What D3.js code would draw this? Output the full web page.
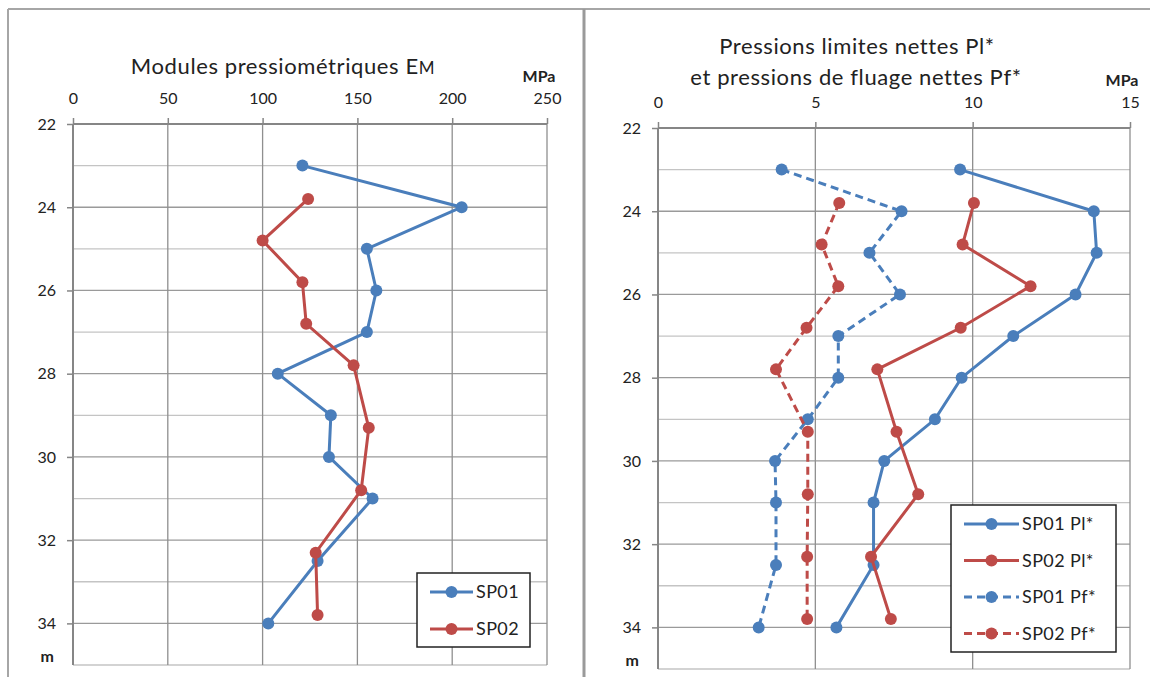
<!DOCTYPE html>
<html lang="fr">
<head>
<meta charset="UTF-8">
<title>Essais pressiométriques</title>
<script src="https://d3js.org/d3.v7.min.js"></script>
<style>
  body { margin: 0; background: #fff; }
  svg text { font-family: Lato, "Open Sans", sans-serif; fill: #222; }
</style>
</head>
<body>
<div id="chart"></div>
<script>
// depths (m)
const depthSP01 = [23, 24, 25, 26, 27, 28, 29, 30, 31, 32.5, 34];
const depthSP02 = [23.8, 24.8, 25.8, 26.8, 27.8, 29.3, 30.8, 32.3, 33.8];

// modules pressiometriques EM (MPa)
const emSP01 = [121, 205, 155, 160, 155, 108, 136, 135, 158, 129, 103];
const emSP02 = [124, 100, 121, 123, 148, 156, 152, 128, 129];

// pressions limites nettes Pl* et de fluage Pf* (MPa)
const plSP01 = [9.6, 13.85, 13.94, 13.27, 11.29, 9.65, 8.8, 7.19, 6.85, 6.85, 5.67];
const pfSP01 = [3.93, 7.74, 6.72, 7.69, 5.73, 5.73, 4.76, 3.72, 3.75, 3.75, 3.2];
const plSP02 = [10.04, 9.68, 11.84, 9.62, 6.97, 7.58, 8.27, 6.77, 7.4];
const pfSP02 = [5.76, 5.2, 5.73, 4.72, 3.75, 4.76, 4.76, 4.74, 4.74];

// axis ticks
const depthTicks = [22, 24, 26, 28, 30, 32, 34];
const emTicks = [0, 50, 100, 150, 200, 250];
const pTicks = [0, 5, 10, 15];

const blue = "#4a7ebb", red = "#be4b48";

const svg = d3.select("#chart").append("svg")
    .attr("width", 1150)
    .attr("height", 677);

// outer frames
svg.append("line").attr("x1", 8).attr("x2", 1150).attr("y1", 9).attr("y2", 9)
    .attr("stroke", "#a6a6a6").attr("stroke-width", 2);
svg.append("line").attr("x1", 8).attr("x2", 8).attr("y1", 9).attr("y2", 677)
    .attr("stroke", "#a6a6a6").attr("stroke-width", 2);
svg.append("line").attr("x1", 584).attr("x2", 584).attr("y1", 9).attr("y2", 677)
    .attr("stroke", "#9a9a9a").attr("stroke-width", 3);

function drawPanel(p) {
    const x = d3.scaleLinear().domain(p.xDomain).range([p.left, p.right]);
    const y = d3.scaleLinear().domain([22, 35]).range([p.top, p.bottom]);
    const g = svg.append("g");

    // horizontal gridlines (minor at odd depths)
    g.selectAll(".hgrid").data(d3.range(23, 36)).enter().append("line")
        .attr("x1", p.left).attr("x2", p.right)
        .attr("y1", d => y(d)).attr("y2", d => y(d))
        .attr("stroke", d => d % 2 === 0 ? "#9a9a9a" : "#c4c4c4")
        .attr("stroke-width", d => d === 35 ? 1.5 : 1.3);

    // vertical gridlines
    g.selectAll(".vgrid").data(p.xTicks.slice(1)).enter().append("line")
        .attr("x1", d => x(d)).attr("x2", d => x(d))
        .attr("y1", p.top).attr("y2", p.bottom)
        .attr("stroke", "#8f8f8f").attr("stroke-width", 1.3);

    // top x axis
    const xAxis = g.append("g").attr("transform", `translate(0,${p.top})`)
        .call(d3.axisTop(x).tickValues(p.xTicks).tickSize(6).tickPadding(14));
    // left y axis
    const yAxis = g.append("g").attr("transform", `translate(${p.left},0)`)
        .call(d3.axisLeft(y).tickValues(depthTicks).tickSize(6).tickPadding(11));
    [xAxis, yAxis].forEach(a => {
        a.select(".domain").attr("stroke", "#868686").attr("stroke-width", 2);
        a.selectAll(".tick line").attr("stroke", "#868686").attr("stroke-width", 1.5);
        a.selectAll(".tick text").style("font-size", "16px").attr("fill", "#222");
    });
    yAxis.select(".domain").attr("d", `M0,${p.top}V${p.bottom}`);
    xAxis.select(".domain").attr("d", `M${p.left},0H${p.right}`);

    g.append("text").attr("x", p.left - 19).attr("y", p.bottom - 3)
        .attr("text-anchor", "end").style("font-size", "16px")
        .style("font-weight", "bold").text("m");
    g.append("text").attr("x", p.right - 8).attr("y", p.top - 42)
        .attr("text-anchor", "middle").style("font-size", "16px")
        .style("font-weight", "bold").text("MPa");

    // series
    const line = d3.line().x(d => x(d[0])).y(d => y(d[1]));
    p.series.forEach(s => {
        const pts = d3.zip(s.values, s.depths);
        g.append("path").datum(pts)
            .attr("d", line).attr("fill", "none")
            .attr("stroke", s.color).attr("stroke-width", 3)
            .attr("stroke-dasharray", s.dashed ? "8,5" : null);
        g.selectAll(null).data(pts).enter().append("circle")
            .attr("cx", d => x(d[0])).attr("cy", d => y(d[1]))
            .attr("r", 6).attr("fill", s.color);
    });

    // legend
    const lg = g.append("g");
    lg.append("rect").attr("x", p.legend.x).attr("y", p.legend.y)
        .attr("width", p.legend.w).attr("height", p.legend.h)
        .attr("fill", "#fff").attr("stroke", "#222").attr("stroke-width", 1.5);
    p.series.forEach((s, i) => {
        const ly = p.legend.y + p.legend.first + i * p.legend.step;
        const lx = p.legend.x + 13;
        lg.append("line").attr("x1", lx).attr("x2", lx + p.legend.len)
            .attr("y1", ly).attr("y2", ly)
            .attr("stroke", s.color).attr("stroke-width", 3)
            .attr("stroke-dasharray", s.dashed ? "8,5" : null);
        lg.append("circle").attr("cx", lx + p.legend.len / 2).attr("cy", ly)
            .attr("r", 6).attr("fill", s.color);
        lg.append("text").attr("x", lx + p.legend.len + 3).attr("y", ly + 6)
            .style("font-size", "18px").style("letter-spacing", "0.4px").text(s.name);
    });
}

drawPanel({
    xDomain: [0, 250], xTicks: emTicks,
    left: 73, right: 547, top: 124, bottom: 665,
    series: [
        { name: "SP01", depths: depthSP01, values: emSP01, color: blue },
        { name: "SP02", depths: depthSP02, values: emSP02, color: red }
    ],
    legend: { x: 417, y: 573, w: 113, h: 74, first: 19, step: 37, len: 43 }
});

drawPanel({
    xDomain: [0, 15], xTicks: pTicks,
    left: 658, right: 1130, top: 128, bottom: 669,
    series: [
        { name: "SP01 Pl*", depths: depthSP01, values: plSP01, color: blue },
        { name: "SP02 Pl*", depths: depthSP02, values: plSP02, color: red },
        { name: "SP01 Pf*", depths: depthSP01, values: pfSP01, color: blue, dashed: true },
        { name: "SP02 Pf*", depths: depthSP02, values: pfSP02, color: red, dashed: true }
    ],
    legend: { x: 951, y: 505, w: 165, h: 147, first: 19, step: 36.5, len: 55 }
});

// titles
const t1 = svg.append("text").attr("x", 283).attr("y", 74)
    .attr("text-anchor", "middle").style("font-size", "22px")
    .style("letter-spacing", "0.6px");
t1.append("tspan").text("Modules pressiométriques E");
t1.append("tspan").style("font-size", "17px").text("M");

svg.append("text").attr("x", 857).attr("y", 54)
    .attr("text-anchor", "middle").style("font-size", "22px")
    .style("letter-spacing", "0.6px")
    .text("Pressions limites nettes Pl*");
svg.append("text").attr("x", 856).attr("y", 85)
    .attr("text-anchor", "middle").style("font-size", "22px")
    .style("letter-spacing", "0.6px")
    .text("et pressions de fluage nettes Pf*");
</script>
</body>
</html>
